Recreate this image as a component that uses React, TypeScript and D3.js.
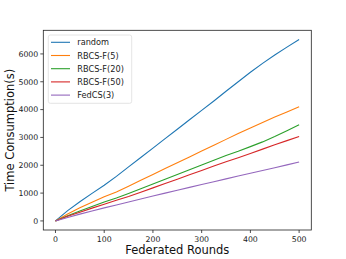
import React from "react";
import * as d3 from "d3";

const rounds = [0, 25, 50, 75, 100, 125, 150, 175, 200, 225, 250, 275, 300, 325, 350, 375, 400, 425, 450, 475, 500];
const randomVals = [0, 370, 690, 990, 1280, 1600, 1940, 2280, 2617, 2956, 3295, 3634, 3973, 4310, 4660, 5000, 5340, 5660, 5960, 6245, 6520];
const rbcs5Vals = [0, 250, 470, 670, 870, 1040, 1250, 1460, 1670, 1880, 2090, 2300, 2510, 2720, 2930, 3140, 3340, 3540, 3730, 3915, 4100];
const rbcs20Vals = [0, 190, 360, 520, 680, 820, 983, 1154, 1325, 1496, 1667, 1838, 2009, 2180, 2352, 2505, 2670, 2840, 3030, 3240, 3452];
const rbcs50Vals = [0, 165, 315, 460, 600, 740, 874, 1031, 1188, 1345, 1501, 1658, 1815, 1972, 2128, 2270, 2420, 2580, 2735, 2885, 3032];
const fedcsVals = [0, 125, 245, 360, 470, 575, 680, 790, 898, 1000, 1103, 1205, 1307, 1410, 1512, 1612, 1712, 1812, 1913, 2014, 2115];

const seriesNames = ["random", "RBCS-F(5)", "RBCS-F(20)", "RBCS-F(50)", "FedCS(3)"];
const seriesValues = [randomVals, rbcs5Vals, rbcs20Vals, rbcs50Vals, fedcsVals];
const colors = ["#1f77b4", "#ff7f0e", "#2ca02c", "#d62728", "#9467bd"];
const xTicks = [0, 100, 200, 300, 400, 500];
const yTicks = [0, 1000, 2000, 3000, 4000, 5000, 6000];

export default function App() {
  const W = 346, H = 259;
  const left = 43.3, right = 311.3, top = 30.3, bottom = 230;
  const x = d3.scaleLinear().domain([-25, 525]).range([left, right]);
  const y = d3.scaleLinear().domain([-326, 6849]).range([bottom, top]);
  const line = d3.line<number>().x((_, i) => x(rounds[i])).y((d) => y(d));
  const font = "DejaVu Sans, sans-serif";
  return (
    <svg width={W} height={H} style={{ position: "absolute", left: 0, top: 0 }} fontFamily={font}>
      <rect width={W} height={H} fill="#fff" />
      {seriesValues.map((vals, i) => (
        <path key={i} d={line(vals) || ""} fill="none" stroke={colors[i]} strokeWidth={1.1} />
      ))}
      <rect x={left} y={top} width={right - left} height={bottom - top} fill="none" stroke="#222" strokeWidth={0.8} />
      {xTicks.map((t) => (
        <g key={t}>
          <line x1={x(t)} x2={x(t)} y1={bottom} y2={bottom + 3} stroke="#222" strokeWidth={0.8} />
          <text x={x(t)} y={bottom + 11.5} fontSize={7.8} textAnchor="middle" fill="#222">{t}</text>
        </g>
      ))}
      {yTicks.map((t) => (
        <g key={t}>
          <line x1={left - 3} x2={left} y1={y(t)} y2={y(t)} stroke="#222" strokeWidth={0.8} />
          <text x={left - 5} y={y(t) + 2.8} fontSize={7.8} textAnchor="end" fill="#222">{t}</text>
        </g>
      ))}
      <text x={(left + right) / 2} y={254} fontSize={11.5} textAnchor="middle" fill="#111">Federated Rounds</text>
      <text transform={`translate(13.5,${(top + bottom) / 2}) rotate(-90)`} fontSize={11.5} textAnchor="middle" fill="#111">Time Consumption(s)</text>
      <rect x={48.3} y={35} width={83.4} height={68.3} rx={2} fill="#fff" fillOpacity={0.8} stroke="#ddd" strokeWidth={0.8} />
      {seriesNames.map((n, i) => {
        const ly = 42.3 + i * 13.2;
        return (
          <g key={n}>
            <line x1={51} x2={70} y1={ly} y2={ly} stroke={colors[i]} strokeWidth={1.1} />
            <text x={77.3} y={ly + 3} fontSize={8.2} fill="#222">{n}</text>
          </g>
        );
      })}
    </svg>
  );
}
